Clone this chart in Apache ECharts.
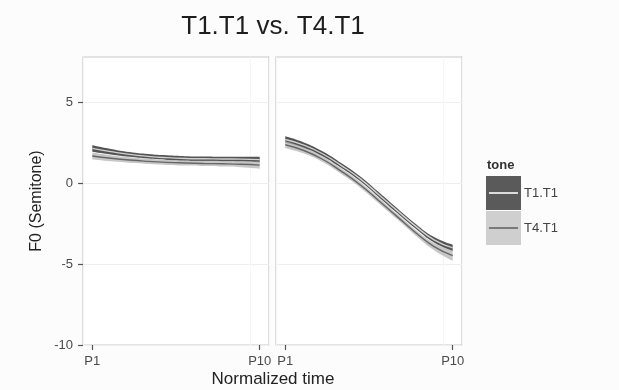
<!DOCTYPE html>
<html>
<head>
<meta charset="utf-8">
<script src="https://cdn.jsdelivr.net/npm/echarts@6/dist/echarts.min.js"></script>
<style>html,body{margin:0;padding:0;background:#fcfcfc;}#c{width:619px;height:390px;}</style>
</head>
<body>
<div id="c"></div>
<script>
// ---- data ----
var categories = ['P1','P2','P3','P4','P5','P6','P7','P8','P9','P10'];
var tones = ['T1.T1','T4.T1'];
var yTicks = [-10, -5, 0, 5];
// facet 1 (left)
var t1LeftMean = [2.15,1.95,1.78,1.66,1.58,1.53,1.51,1.50,1.49,1.46];
var t1LeftCI   = [0.20,0.17,0.15,0.14,0.14,0.14,0.14,0.14,0.15,0.18];
var t4LeftMean = [1.68,1.54,1.43,1.35,1.29,1.25,1.22,1.20,1.17,1.12];
var t4LeftCI   = [0.22,0.19,0.17,0.16,0.16,0.16,0.16,0.17,0.18,0.22];
// facet 2 (right)
var t1RightMean = [2.70,2.35,1.82,1.10,0.30,-0.68,-1.68,-2.65,-3.50,-4.00];
var t1RightCI   = [0.20,0.17,0.15,0.15,0.15,0.15,0.15,0.15,0.17,0.20];
var t4RightMean = [2.38,2.02,1.48,0.75,-0.08,-1.05,-2.05,-3.05,-3.92,-4.48];
var t4RightCI   = [0.22,0.19,0.17,0.17,0.17,0.17,0.17,0.18,0.22,0.32];

var ribbonColor = {'T1.T1':'#363636','T4.T1':'#b4b4b4'};
var ribbonOpacity = {'T1.T1':0.85,'T4.T1':0.75};
var lineColor = {'T1.T1':'#d0d0d0','T4.T1':'#666666'};

var facets = [
  {'T1.T1':[t1LeftMean,t1LeftCI],'T4.T1':[t4LeftMean,t4LeftCI]},
  {'T1.T1':[t1RightMean,t1RightCI],'T4.T1':[t4RightMean,t4RightCI]}
];

var series = [];
facets.forEach(function(f, fi){
  tones.forEach(function(tone){
    var mean = f[tone][0], ci = f[tone][1];
    var lower = mean.map(function(v,i){return +(v-ci[i]).toFixed(3);});
    var width = ci.map(function(c){return +(2*c).toFixed(3);});
    var stackName = 'band'+fi+tone;
    series.push({
      type:'line', name: tone+' lower', xAxisIndex:fi, yAxisIndex:fi,
      data: lower, stack: stackName, stackStrategy:'all', smooth:true,
      symbol:'none', lineStyle:{opacity:0}, silent:true
    });
    series.push({
      type:'line', name: tone, xAxisIndex:fi, yAxisIndex:fi,
      data: width, stack: stackName, stackStrategy:'all', smooth:true,
      symbol:'none', lineStyle:{opacity:0}, silent:true,
      itemStyle:{color: ribbonColor[tone]},
      areaStyle:{color: ribbonColor[tone], opacity: ribbonOpacity[tone]}
    });
    series.push({
      type:'line', name: tone+' fit', xAxisIndex:fi, yAxisIndex:fi,
      data: mean, smooth:true, symbol:'none', silent:true,
      lineStyle:{color: lineColor[tone], width:1.4}
    });
  });
});

var tickFn = function(i){ return i === 0 || i === categories.length-1; };

function xAxis(gi){
  return {
    type:'category', gridIndex:gi, data:categories, boundaryGap:true,
    axisLine:{show:false, onZero:false},
    axisTick:{show:true, alignWithLabel:true, interval:tickFn, length:5, lineStyle:{color:'#555', width:1.2}},
    axisLabel:{interval:tickFn, color:'#4a4a4a', fontSize:13, margin:10, fontFamily:'Liberation Sans, Arial'},
    splitLine:{show:true, interval:tickFn, lineStyle:{color:'#f6f6f6'}}
  };
}
function yAxis(gi, labels){
  return {
    type:'value', gridIndex:gi, min:-10, max:7.8, interval:5,
    axisLine:{show:false},
    axisTick:{show:labels, length:5, customValues:yTicks, lineStyle:{color:'#555', width:1.2}},
    axisLabel:{show:labels, customValues:yTicks, color:'#4a4a4a', fontSize:13, margin:10, fontFamily:'Liberation Sans, Arial'},
    splitLine:{show:true, lineStyle:{color:'#efefef'}},
    name: labels ? 'F0 (Semitone)' : '',
    nameLocation:'middle', nameGap:38,
    nameTextStyle:{color:'#222', fontSize:16, fontFamily:'Liberation Sans, Arial'}
  };
}

var chart = echarts.init(document.getElementById('c'), null, {renderer:'canvas'});
chart.setOption({
  backgroundColor:'#fcfcfc',
  animation:false,
  title:[
    {text:'T1.T1 vs. T4.T1', left:273, top:14, padding:0, textAlign:'center',
     textStyle:{fontSize:26, fontWeight:'normal', color:'#1e1e1e', fontFamily:'Liberation Sans, Arial'}},
    {text:'Normalized time', left:273, top:371, padding:0, textAlign:'center',
     textStyle:{fontSize:17, fontWeight:'normal', color:'#222', fontFamily:'Liberation Sans, Arial'}},
    {text:'tone', left:487, top:159, padding:0,
     textStyle:{fontSize:13, fontWeight:'bold', color:'#333', fontFamily:'Liberation Sans, Arial'}}
  ],
  legend:[
    {orient:'vertical', left:486, top:176, padding:0, itemGap:1, itemWidth:35, itemHeight:34,
     icon:'rect', selectedMode:false,
     data: tones.map(function(t){return {name:t, itemStyle:{color: t==='T1.T1' ? '#5a5a5a' : '#cfcfcf'}};}),
     textStyle:{color:'#444', fontSize:13, padding:[0,0,0,-2], fontFamily:'Liberation Sans, Arial'}},
    {orient:'vertical', left:489, top:192, padding:0, itemGap:33, itemWidth:29, itemHeight:2,
     selectedMode:false,
     data: tones.map(function(t){return {name:t, icon:'rect', itemStyle:{color: t==='T1.T1' ? '#dcdcdc' : '#7a7a7a'}};}),
     formatter:function(){return '';},
     textStyle:{color:'rgba(0,0,0,0)', fontSize:1, lineHeight:1}}
  ],
  grid:[
    {left:83, top:57, width:186, height:288, show:true, backgroundColor:'#ffffff', borderColor:'#c8c8c8', borderWidth:1.2},
    {left:276, top:57, width:186, height:288, show:true, backgroundColor:'#ffffff', borderColor:'#c8c8c8', borderWidth:1.2}
  ],
  xAxis:[xAxis(0), xAxis(1)],
  yAxis:[yAxis(0,true), yAxis(1,false)],
  series: series
});
</script>
</body>
</html>
